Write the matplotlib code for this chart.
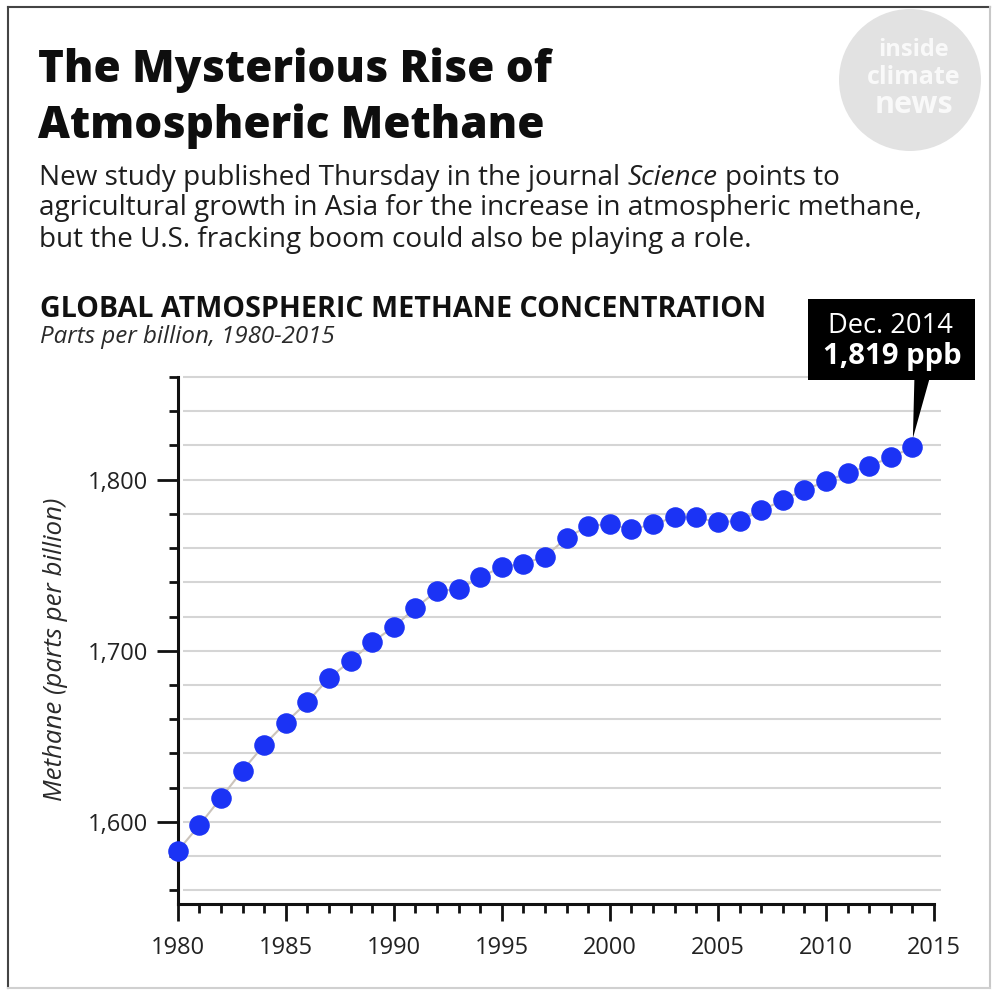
import matplotlib
matplotlib.use("Agg")
import matplotlib.pyplot as plt
from matplotlib.patches import Rectangle, Polygon, Circle
from matplotlib.lines import Line2D
from matplotlib.transforms import IdentityTransform
from matplotlib.ticker import MultipleLocator, FixedLocator

W, H = 994, 993
FONT = "Open Sans"
plt.rcParams["font.family"] = [FONT, "DejaVu Sans"]

# ---- data -------------------------------------------------------------
years = list(range(1980, 2015))
methane_ppb = [1583, 1598, 1614, 1630, 1645, 1658, 1670, 1684, 1694, 1705,
               1714, 1725, 1735, 1736, 1743, 1749, 1751, 1755, 1766, 1773,
               1774, 1771, 1774, 1778, 1778, 1775, 1776, 1782, 1788, 1794,
               1799, 1804, 1808, 1813, 1819]
year_ticks = [1980, 1985, 1990, 1995, 2000, 2005, 2010, 2015]
ppb_ticks = [1600, 1700, 1800]
ppb_tick_labels = ["1,600", "1,700", "1,800"]
ppb_gridlines = list(range(1560, 1861, 20))
callout_year = 2014
callout_value = 1819
callout_date = "Dec. 2014"

title_lines = ["The Mysterious Rise of", "Atmospheric Methane"]
intro_line1 = ["New study published Thursday in the journal", "Science", "points to"]
intro_line2 = "agricultural growth in Asia for the increase in atmospheric methane,"
intro_line3 = "but the U.S. fracking boom could also be playing a role."
chart_heading = "GLOBAL ATMOSPHERIC METHANE CONCENTRATION"
chart_subheading = "Parts per billion, 1980-2015"
y_label = "Methane (parts per billion)"

# ---- figure & helpers -------------------------------------------------
fig = plt.figure(figsize=(W / 100, H / 100), dpi=100)
fig.patch.set_facecolor("white")
renderer = fig.canvas.get_renderer()


def put(x, y, s, **kw):
    """Place text at pixel position (x from left, y from top)."""
    kw.setdefault("va", "baseline")
    kw.setdefault("color", "#1e1e1e")
    return fig.text(x / W, 1 - y / H, s, **kw)


def width(t):
    return t.get_window_extent(renderer).width


def fit(t, target):
    for _ in range(2):
        t.set_fontsize(t.get_fontsize() * target / width(t))
    return t.get_fontsize()


# watermark logo
fig.add_artist(Circle((910, H - 80), 71, transform=IdentityTransform(),
                      facecolor="#e2e2e2", edgecolor="none", zorder=0))
for txt, yy, fs in [("inside", 56, 17), ("climate", 84, 18), ("news", 113, 22)]:
    put(914, yy, txt, ha="center", fontsize=fs, weight="bold",
        color="white", alpha=0.8, zorder=0.5)

# frame around the graphic
for (x0, y0, x1, y1, c) in [(8, 7, 990, 7, "#444444"), (8, 7, 8, 988, "#444444"),
                            (990, 7, 990, 988, "#c8c8c8"), (8, 988, 990, 988, "#d0d0d0")]:
    fig.add_artist(Line2D([x0 / W, x1 / W], [1 - y0 / H, 1 - y1 / H],
                          transform=fig.transFigure, color=c, lw=1.5))

# title
t1 = put(38, 82, title_lines[0], fontsize=36, weight=800, color="#0e0e0e")
t2 = put(38, 138, title_lines[1], fontsize=36, weight=800, color="#0e0e0e")
s_title = (fit(t1, 510) + fit(t2, 510)) / 2
t1.set_fontsize(s_title)
t2.set_fontsize(s_title)

# intro paragraph
l3 = put(39, 247, intro_line3, fontsize=17)
s_body = fit(l3, 714)
l2 = put(39, 215, intro_line2, fontsize=s_body)
probe_a = put(0, 0, "nn", fontsize=s_body)
probe_b = put(0, 0, "n n", fontsize=s_body)
space_w = width(probe_b) - width(probe_a)
probe_a.remove()
probe_b.remove()
x = 39
for piece, style in zip(intro_line1, ["normal", "italic", "normal"]):
    t = put(x, 185, piece, fontsize=s_body, style=style)
    x += width(t) + space_w

# chart heading
h1 = put(40, 317, chart_heading, fontsize=16, weight="bold", color="#111111")
fit(h1, 727)
h2 = put(40, 343, chart_subheading, fontsize=13, style="italic", color="#2a2a2a")
fit(h2, 295)

# y axis label
yl = put(55, 649, y_label, fontsize=14, style="italic", ha="center", va="center",
         color="#2a2a2a")
fit(yl, 302)
yl.set_rotation(90)

# ---- chart ------------------------------------------------------------
left, right, top, bottom = 177.7, 934.0, 377.0, 904.0
ax = fig.add_axes([left / W, 1 - bottom / H, (right - left) / W, (bottom - top) / H])
ax.set_facecolor("none")
ax.set_xlim(1980, 2015)
ax.set_ylim(1552, 1860)

ax.hlines(ppb_gridlines, 1980.25, 2015.33, colors="#d5d5d5", lw=1.5,
          zorder=1, clip_on=False)
ax.plot(years, methane_ppb, color="#cbc3bb", lw=1.5, zorder=2, clip_on=False)
ax.plot(years, methane_ppb, "o", ms=13.8, color="#1b33f5", mec="#1b33f5",
        zorder=3, clip_on=False)

for side in ["top", "right"]:
    ax.spines[side].set_visible(False)
for side in ["left", "bottom"]:
    ax.spines[side].set_linewidth(2.2)
    ax.spines[side].set_color("#111111")

ax.set_xticks(year_ticks)
ax.xaxis.set_minor_locator(MultipleLocator(1))
ax.set_yticks(ppb_ticks, ppb_tick_labels)
ax.yaxis.set_minor_locator(FixedLocator(ppb_gridlines))
ax.tick_params(axis="x", which="major", length=12, width=2, pad=11,
               labelsize=17, labelcolor="#222222", color="#111111")
ax.tick_params(axis="x", which="minor", length=6.5, width=2, color="#111111")
ax.tick_params(axis="y", which="major", length=15, width=2, pad=6,
               labelsize=17, labelcolor="#222222", color="#111111")
ax.tick_params(axis="y", which="minor", length=6.5, width=2, color="#111111")

# callout for the latest value
px, py = ax.transData.transform((callout_year, callout_value))
fig.add_artist(Rectangle((px - 104.5, py + 67), 167, 81, transform=IdentityTransform(),
                         facecolor="black", edgecolor="none", zorder=5))
fig.add_artist(Polygon([(px + 2, py + 68), (px + 17, py + 68), (px + 0.5, py + 9)],
                       closed=True, transform=IdentityTransform(),
                       facecolor="black", edgecolor="none", zorder=5))
c1 = fig.text(px - 22, py + 114, callout_date, transform=IdentityTransform(),
              ha="center", va="baseline", color="white", fontsize=15, zorder=6)
fit(c1, 125)
c2 = fig.text(px - 20.5, py + 83, f"{callout_value:,} ppb", transform=IdentityTransform(),
              ha="center", va="baseline", color="white", fontsize=16,
              weight="bold", zorder=6)
fit(c2, 139)

fig.savefig("out.png", dpi=100, facecolor="white")
